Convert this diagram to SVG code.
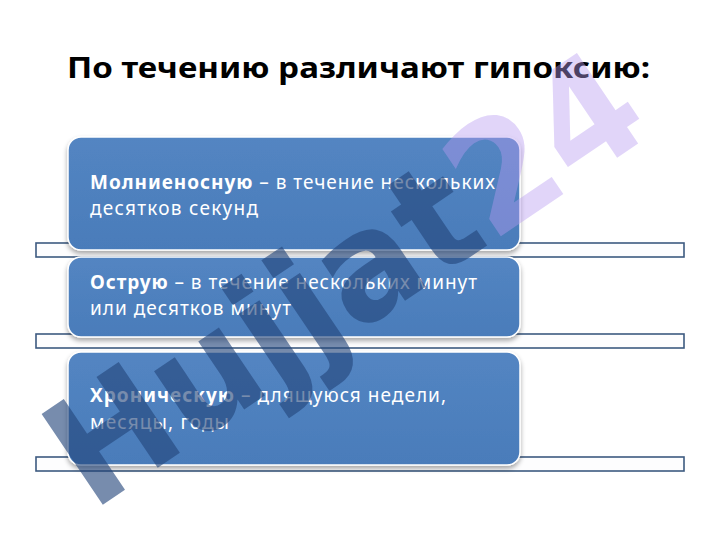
<svg xmlns="http://www.w3.org/2000/svg" width="720" height="540" viewBox="0 0 720 540">
<style>
.title{font-family:"Noto Sans","DejaVu Sans",sans-serif;font-weight:bold;font-size:28px;fill:#000}
.strip{fill:#fdfdfe;stroke:#3d5a80;stroke-width:1.6}
.box{fill:url(#bg);stroke:#ffffff;stroke-width:1.5;filter:url(#sh)}
.t{font-family:"Noto Sans","DejaVu Sans",sans-serif;font-size:19px;fill:#ffffff}
.b{font-weight:bold}
.wm{font-family:"DejaVu Sans","Noto Sans",sans-serif;font-weight:bold;font-size:150px}
</style>
<defs>
<linearGradient id="bg" x1="0" y1="0" x2="0" y2="1">
<stop offset="0" stop-color="#5385c2"/>
<stop offset="1" stop-color="#4a7cba"/>
</linearGradient>
<filter id="sh" x="-5%" y="-10%" width="110%" height="125%">
<feGaussianBlur in="SourceAlpha" stdDeviation="2.5"/>
<feOffset dy="2.5"/>
<feComponentTransfer><feFuncA type="linear" slope="0.35"/></feComponentTransfer>
<feMerge><feMergeNode/><feMergeNode in="SourceGraphic"/></feMerge>
</filter>
</defs>
<rect width="720" height="540" fill="#ffffff"/>
<g id="title"><text class="title" x="67" y="77.5" textLength="583" lengthAdjust="spacingAndGlyphs">По течению различают гипоксию:</text></g>
<g id="connectors">
<rect class="strip" x="36" y="243" width="648" height="14"/>
<rect class="strip" x="36" y="334" width="648" height="14"/>
<rect class="strip" x="36" y="457" width="648" height="14"/>
</g>
<g id="node1">
<rect class="box" x="68" y="137" width="452" height="113" rx="13"/>
<text class="t" x="90" y="188.5" textLength="405" lengthAdjust="spacing"><tspan class="b">Молниеносную</tspan> – в течение нескольких</text>
<text class="t" x="90" y="215" textLength="168" lengthAdjust="spacing">десятков секунд</text>
</g>
<g id="node2">
<rect class="box" x="68" y="257" width="452" height="80" rx="13"/>
<text class="t" x="90" y="289" textLength="387" lengthAdjust="spacing"><tspan class="b">Острую</tspan> – в течение нескольких минут</text>
<text class="t" x="90" y="315" textLength="201" lengthAdjust="spacing">или десятков минут</text>
</g>
<g id="node3">
<rect class="box" x="68" y="352" width="452" height="113" rx="13"/>
<text class="t" x="90" y="402" textLength="356" lengthAdjust="spacing"><tspan class="b">Хроническую</tspan> – длящуюся недели,</text>
<text class="t" x="90" y="428.5" textLength="139" lengthAdjust="spacing">месяцы, годы</text>
</g>
<g id="watermark">
<text class="wm" transform="translate(92,512) rotate(-34)" textLength="680" lengthAdjust="spacingAndGlyphs"><tspan fill="#23467a" fill-opacity="0.62">Hujjat</tspan><tspan fill="#b89cf0" fill-opacity="0.42">24</tspan></text>
</g>
</svg>
